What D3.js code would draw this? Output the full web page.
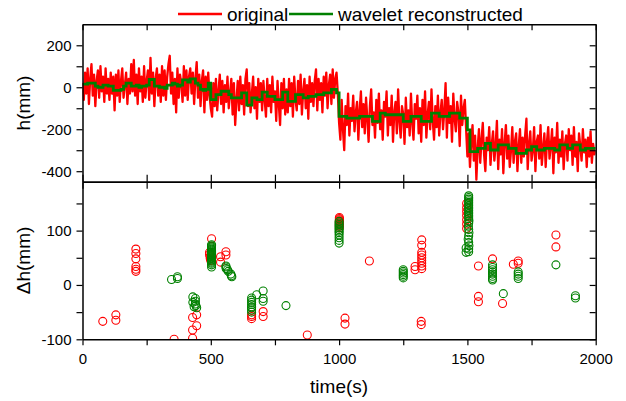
<!DOCTYPE html>
<html>
<head>
<meta charset="utf-8">
<script src="https://cdn.jsdelivr.net/npm/d3@7"></script>
<style>
  body { margin: 0; background: #fff; }
  svg { font-family: "Liberation Sans", Arial, sans-serif; }
</style>
</head>
<body>
<svg id="drawing_region"></svg>
<script>
// h(mm), original signal, one value every 5 s from 0 to 2000 s
const originalH = [
  20, -60, 70, -30, 90, -80, 40, 110, -40, 60, -90, 30, 80, -50, 100, -20, 50, -70, 90, -30,
  40, -60, 70, -30, 50, -110, 60, -40, 80, -70, 30, 90, -50, 10, 70, -80, 40, -30, 110, -20,
  130, -40, 60, -80, 90, -20, 50, -70, 100, -50, 30, 80, -60, 140, -30, 70, -90, 40, 90, -40,
  60, -70, 100, -40, 80, -60, 50, 110, 150, -30, 70, -80, 40, -120, 90, -50, 60, 20, -70, 100,
  -40, 80, -60, 50, 90, -30, 70, -80, 40, 120, -50, 60, -90, 30, 80, -120, 50, -60, 70, -40,
  -100, -140, 20, -90, 40, -110, -20, 60, -80, 30, -120, 10, -70, 50, -100, -30, 40, -130, 20, -180,
  -60, 30, -110, 50, -80, 10, -130, 40, 85, -90, 20, -120, -30, 50, -100, 0, -150, 40, -70, 20,
  -110, 30, -60, -140, 40, -90, 10, -120, 50, -70, -20, -160, 30, -80, -180, 20, -100, 40, -130, -10,
  -120, 40, -90, 20, -140, 50, -60, -110, 30, -80, 60, -130, -20, 40, -100, 10, -150, 50, -70, 20,
  -90, 30, 85, -110, 40, -60, 20, -120, 50, -40, 70, -100, 10, 60, -80, 85, -50, 40, 70, -30,
  -170, -250, -60, -200, -300, -90, -180, -30, -230, -100, -160, -40, -210, -120, -70, -250, -110, -20, -190, -80,
  -220, -50, -150, -260, -90, -10, -180, -120, -240, -60, -170, -30, -200, -110, -250, -70, -140, -20, -230, -100,
  -180, -40, -260, -120, -70, -220, -10, -160, -240, -90, -130, -270, -50, -190, -110, -230, -30, -170, -250, -80,
  -150, -40, -220, -100, -260, -60, -180, -20, -240, -130, -70, -200, -10, -160, -250, -90, -190, -40, -230, -120,
  -60, -200, -110, 20, -240, -50, -170, -90, -260, -30, -150, -210, -70, -120, -280, -40, -180, -100, -60, -200,
  -330, -220, -380, -260, -180, -350, -230, -440, -290, -200, -360, -250, -170, -320, -400, -240, -300, -190, -370, -270,
  -210, -350, -280, -160, -390, -250, -320, -200, -410, -270, -180, -340, -230, -380, -300, -190, -360, -260, -220, -400,
  -280, -200, -360, -240, -330, -230, -150, -390, -270, -210, -350, -300, -190, -400, -260, -230, -340, -180, -370, -290,
  -220, -380, -260, -190, -340, -280, -200, -410, -240, -310, -170, -360, -250, -330, -210, -390, -270, -230, -350, -200,
  -300, -230, -370, -190, -330, -260, -400, -220, -280, -350, -200, -310, -250, -380, -240, -330, -210, -360, -270, -320,
  -300
];
const originalStep = 5;

// h(mm), wavelet reconstructed, one value every 10 s
const waveletH = [
  15, 15, 20, 20, 20, 5, 0, 0, 10, 10, 5, 5, -15, -15, -15, -10, 5, 20, 20, 5,
  5, 10, 0, 5, 5, 10, 37, 37, 5, 5, 0, 0, -5, 10, 10, 20, 15, 5, 10, 35,
  35, 25, 40, 40, 20, 10, -10, -15, -10, 20,
  -59, -59, -35, -35, -19, -19, -19, -35, -51, -51, -51, -51, -27, -27, -85, -85, -51, -51, -59, -59,
  -23, -23, -43, -43, -43, -59, -59, -59, -23, -23, -67, -67, -67, -35, -35, -35, -51, -51, -43, -43,
  -43, -35, -35, -35, -27, -27, -27, -10, -10, -27,
  -139, -139, -139, -147, -147, -147, -147, -147, -139, -139, -139, -139, -139, -163, -163, -163, -123, -123, -131, -131,
  -131, -131, -131, -131, -131, -163, -163, -163, -139, -139, -139, -139, -163, -163, -163, -163, -123, -123, -123, -139,
  -139, -139, -139, -123, -123, -123, -123, -147, -147, -147,
  -203, -307, -307, -307, -291, -291, -291, -267, -267, -299, -299, -299, -275, -275, -275, -275, -291, -291, -291, -315,
  -315, -315, -315, -299, -299, -283, -283, -299, -299, -299, -291, -291, -291, -291, -299, -299, -275, -275, -275, -291,
  -291, -275, -275, -275, -299, -299, -291, -291, -291, -291, -291
];
const waveletStep = 10;

// Δh(mm) points [time(s), Δh]
const originalDh = [
  [79, -67], [130, -55], [130, -65],
  [208, 66], [208, 58], [208, 48], [208, 34], [208, 29], [208, 25],
  [357, -100],
  [429, -98], [429, -83], [429, -60], [445, -55], [445, -75],
  [503, 85], [495, 60], [495, 56], [497, 52], [498, 48], [500, 45],
  [538, 52], [538, 42], [559, 61], [559, 55],
  [659, -55], [659, -58], [659, -62], [704, -49], [704, -58],
  [876, -92],
  [1001, 124], [1001, 122], [1001, 120], [1001, 118], [1001, 116], [1001, 114], [1001, 112], [1001, 110], [1001, 108], [1001, 105],
  [1023, -61], [1023, -72],
  [1118, 44],
  [1296, 34], [1296, 28],
  [1322, 83], [1322, 73], [1322, 60], [1322, 55], [1322, 50], [1322, 45], [1322, 40], [1322, 35], [1322, 30],
  [1320, -67], [1320, -73],
  [1497, 150], [1497, 142], [1497, 135], [1497, 128], [1497, 120], [1497, 112], [1497, 104],
  [1543, 35], [1543, -21], [1543, -31],
  [1598, 48],
  [1637, -34],
  [1679, 38], [1698, 44], [1698, 40],
  [1845, 92], [1845, 70]
];

const waveletDh = [
  [347, 10], [370, 15], [370, 12],
  [430, -22], [430, -32], [435, -40], [440, -25], [440, -30], [440, -35], [442, -38], [445, -42],
  [503, 74], [503, 72], [503, 70], [503, 68], [503, 66], [503, 64], [503, 62], [503, 60], [503, 58], [503, 56],
  [503, 54], [503, 52], [503, 50], [503, 48], [503, 46], [503, 44], [503, 42], [503, 40], [503, 37], [503, 33],
  [559, 35], [559, 33], [560, 30], [565, 28], [568, 25], [578, 20], [580, 17], [582, 15],
  [659, -24], [659, -28], [659, -32], [659, -36], [659, -40], [659, -42], [659, -46], [659, -50],
  [679, -18], [704, -11], [704, -25], [704, -30],
  [793, -38],
  [1000, 77], [1000, 82], [1000, 87], [1000, 92], [1000, 96], [1000, 99], [1000, 102], [1000, 105], [1000, 108],
  [1000, 111], [1000, 114], [1000, 117],
  [1250, 28], [1250, 25], [1250, 22], [1250, 19], [1250, 16], [1250, 13],
  [1495, 68], [1495, 60],
  [1505, 61], [1505, 66], [1506, 72], [1505, 78], [1503, 84], [1505, 90], [1506, 96], [1505, 102], [1504, 108],
  [1505, 114], [1506, 118], [1505, 122], [1505, 125], [1505, 128], [1505, 131], [1505, 134], [1505, 137], [1505, 140],
  [1505, 143], [1505, 146], [1505, 149], [1505, 152], [1505, 155], [1505, 158], [1505, 161], [1505, 164],
  [1598, 37], [1598, 32], [1598, 28], [1598, 24], [1598, 20], [1598, 16], [1598, 12], [1598, 9],
  [1640, -16],
  [1698, 24], [1698, 20], [1698, 16], [1698, 12],
  [1845, 37],
  [1921, -20], [1921, -24]
];

const seriesNames = ["original", "wavelet reconstructed"];
const seriesColors = ["#ff0000", "#008000"];

const xTicks = d3.range(0, 2001, 250);
const hTicks = d3.range(-400, 201, 100);
const dhTicks = d3.range(-100, 151, 50);

var config = {
  parent: '#drawing_region',
  width: 626,
  height: 401,
  margin: {top: 24.3, right: 30.3, bottom: 61.7, left: 82.5},
  split: 157.4
};

const svg = d3.select(config.parent)
  .attr('width', config.width)
  .attr('height', config.height);

const inner_width = config.width - config.margin.left - config.margin.right;
const inner_height = config.height - config.margin.top - config.margin.bottom;
const topH = config.split;
const botH = inner_height - config.split;

const xscale = d3.scaleLinear().domain([0, 2000]).range([0, inner_width]);
const hscale = d3.scaleLinear().domain([-450, 300]).range([topH, 0]);
const dhscale = d3.scaleLinear().domain([-100, 190]).range([botH, 0]);

const defs = svg.append('defs');
defs.append('clipPath').attr('id', 'clipTop')
  .append('rect').attr('width', inner_width).attr('height', topH);
defs.append('clipPath').attr('id', 'clipBot')
  .append('rect').attr('width', inner_width).attr('height', botH);

const topChart = svg.append('g')
  .attr('transform', `translate(${config.margin.left}, ${config.margin.top})`);
const botChart = svg.append('g')
  .attr('transform', `translate(${config.margin.left}, ${config.margin.top + topH})`);

// top panel lines
const line = d3.line().x(d => xscale(d.t)).y(d => hscale(d.v));
const origData = originalH.map((v, i) => ({t: i * originalStep, v: v}));
const waveData = waveletH.map((v, i) => ({t: i * waveletStep, v: v}));

const topPlot = topChart.append('g').attr('clip-path', 'url(#clipTop)');
topPlot.append('path')
  .datum(origData)
  .attr('d', line)
  .attr('fill', 'none')
  .attr('stroke', seriesColors[0])
  .attr('stroke-width', 2.3)
  .attr('stroke-linejoin', 'round');
topPlot.append('path')
  .datum(waveData)
  .attr('d', line.curve(d3.curveStepAfter))
  .attr('fill', 'none')
  .attr('stroke', seriesColors[1])
  .attr('stroke-width', 2.8);

// bottom panel circles
const botPlot = botChart.append('g').attr('clip-path', 'url(#clipBot)');
[originalDh, waveletDh].forEach((pts, k) => {
  botPlot.append('g').selectAll('circle')
    .data(pts)
    .join('circle')
    .attr('cx', d => xscale(d[0]))
    .attr('cy', d => dhscale(d[1]))
    .attr('r', 4)
    .attr('fill', 'none')
    .attr('stroke', seriesColors[k])
    .attr('stroke-width', 1.1);
});

// axes
function styleAxis(g) {
  g.selectAll('path.domain').attr('stroke', '#000').attr('stroke-width', 1.5);
  g.selectAll('.tick line').attr('stroke', '#000').attr('stroke-width', 1.2);
  g.selectAll('.tick text').attr('fill', '#000').attr('font-size', 15)
    .attr('font-family', '"Liberation Sans", Arial, sans-serif');
}
const noLabel = () => '';

topChart.append('g')
  .call(d3.axisLeft(hscale).tickValues(hTicks).tickSize(6).tickSizeOuter(0).tickPadding(5)
    .tickFormat(d => d % 200 === 0 ? String(d) : ''))
  .call(styleAxis);
topChart.append('g')
  .attr('transform', `translate(${inner_width}, 0)`)
  .call(d3.axisRight(hscale).tickValues(hTicks).tickSize(-6).tickSizeOuter(0).tickFormat(noLabel))
  .call(styleAxis);
topChart.append('g')
  .call(d3.axisTop(xscale).tickValues(xTicks).tickSize(-6).tickSizeOuter(0).tickFormat(noLabel))
  .call(styleAxis);
topChart.append('g')
  .attr('transform', `translate(0, ${topH})`)
  .call(d3.axisBottom(xscale).tickValues(xTicks).tickSize(7).tickSizeOuter(0).tickFormat(noLabel))
  .call(styleAxis);

botChart.append('g')
  .call(d3.axisTop(xscale).tickValues(xTicks).tickSize(7).tickSizeOuter(0).tickFormat(noLabel))
  .call(styleAxis);
botChart.append('g')
  .call(d3.axisLeft(dhscale).tickValues(dhTicks).tickSize(6).tickSizeOuter(0).tickPadding(5)
    .tickFormat(d => d % 100 === 0 ? String(d) : ''))
  .call(styleAxis);
botChart.append('g')
  .attr('transform', `translate(${inner_width}, 0)`)
  .call(d3.axisRight(dhscale).tickValues(dhTicks).tickSize(-6).tickSizeOuter(0).tickFormat(noLabel))
  .call(styleAxis);
botChart.append('g')
  .attr('transform', `translate(0, ${botH})`)
  .call(d3.axisBottom(xscale).tickValues(xTicks).tickSize(6).tickSizeOuter(0).tickPadding(8)
    .tickFormat(d => d % 500 === 0 ? String(d) : ''))
  .call(styleAxis);

// axis titles
svg.append('text')
  .attr('x', config.margin.left + inner_width / 2)
  .attr('y', 393)
  .attr('text-anchor', 'middle')
  .attr('font-size', 19)
  .text('time(s)');
svg.append('text')
  .attr('transform', `translate(30, ${config.margin.top + topH / 2}) rotate(-90)`)
  .attr('text-anchor', 'middle')
  .attr('font-size', 19)
  .text('h(mm)');
svg.append('text')
  .attr('transform', `translate(30, ${config.margin.top + topH + botH / 2}) rotate(-90)`)
  .attr('text-anchor', 'middle')
  .attr('font-size', 19)
  .text('\u0394h(mm)');

// legend
const legendItems = [{x: 178, tx: 227}, {x: 289, tx: 338}];
legendItems.forEach((it, k) => {
  svg.append('line')
    .attr('x1', it.x).attr('x2', it.x + 44)
    .attr('y1', 14).attr('y2', 14)
    .attr('stroke', seriesColors[k])
    .attr('stroke-width', 2.5);
  svg.append('text')
    .attr('x', it.tx).attr('y', 20.5)
    .attr('font-size', 19)
    .text(seriesNames[k]);
});
</script>
</body>
</html>
